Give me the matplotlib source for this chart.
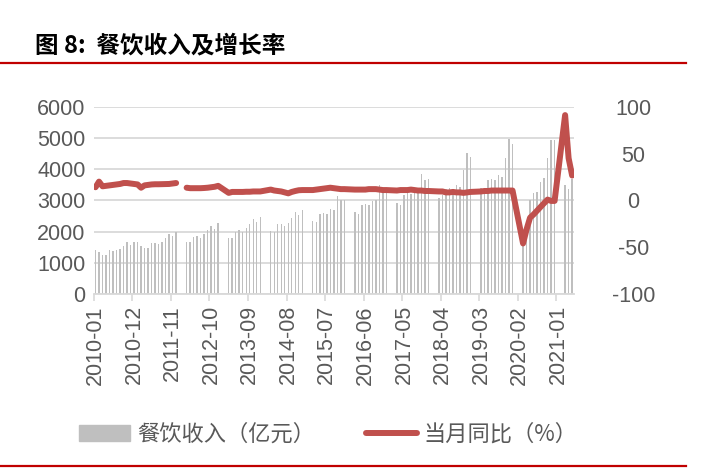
import matplotlib
matplotlib.use("Agg")
import matplotlib.pyplot as plt
from matplotlib.patches import Patch
from matplotlib.lines import Line2D
import numpy as np
import pandas as pd

# monthly categories 2010-01 .. 2021-05
months = pd.period_range("2010-01", "2021-05", freq="M").strftime("%Y-%m").tolist()

# 餐饮收入 (亿元), one row per year; None = no data (Jan/Feb from 2012)
revenue = [
    1410, 1340, 1250, 1250, 1410, 1390, 1400, 1440, 1550, 1660, 1580, 1680,  # 2010
    1660, 1540, 1490, 1470, 1620, 1640, 1600, 1680, 1780, 1920, 1860, 1980,  # 2011
    None, None, 1680, 1660, 1820, 1850, 1800, 1910, 2040, 2170, 2090, 2260,  # 2012
    None, None, 1810, 1780, 2000, 2050, 1990, 2110, 2240, 2390, 2300, 2460,  # 2013
    None, None, 2030, 2000, 2240, 2230, 2170, 2290, 2430, 2640, 2530, 2690,  # 2014
    None, None, 2350, 2300, 2560, 2580, 2560, 2710, 2680, 3140, 3010, 3010,  # 2015
    None, None, 2620, 2560, 2850, 2880, 2850, 2990, 3010, 3490, 3330, 3340,  # 2016
    None, None, 2930, 2850, 3170, 3230, 3200, 3280, 3360, 3840, 3650, 3670,  # 2017
    None, None, 3070, 3170, 3350, 3380, 3350, 3490, 3420, 3970, 4510, 4400,  # 2018
    None, None, 3400, 3350, 3650, 3700, 3650, 3820, 3740, 4350, 4960, 4810,  # 2019
    None, None, 1870, 2300, 3010, 3230, 3260, 3600, 3710, 4350, 4940, 4930,  # 2020
    None, None, 3490, 3350, 3700,                                            # 2021
]

# 当月同比 (%)
yoy = [
    14, 20, 15, 15.5, 16, 16.5, 17, 17.5, 18.5, 18.5, 18, 17.5,              # 2010
    17, 13.5, 16, 16.5, 17, 17.2, 17.2, 17.3, 17.4, 17.5, 18, 18.5,          # 2011
    None, None, 13.5, 13, 13, 13, 13, 13.2, 13.5, 14, 14.5, 15.5,            # 2012
    None, None, 8, 9, 9, 9, 9, 9.2, 9.2, 9.5, 9.5, 9.5,                      # 2013
    None, None, 11.5, 10.5, 10, 9.5, 8.5, 7.5, 9, 10, 10.8, 11,              # 2014
    None, None, 11, 11.5, 12, 12.5, 13, 13.5, 13, 12.5, 12, 12,              # 2015
    None, None, 11.5, 11.5, 11.5, 11.5, 12, 12, 12, 11.5, 11, 11,            # 2016
    None, None, 10.5, 11, 11, 11, 11.5, 11, 10.5, 10.5, 10, 10,              # 2017
    None, None, 9.5, 9.5, 8.5, 8.5, 9, 8.5, 8.5, 8, 8.5, 9,                  # 2018
    None, None, 9.5, 10, 10, 10.5, 10.5, 10.5, 10.5, 10.5, 10.5, 10.5,       # 2019
    None, None, -46, -31, -18.5, -15, -11, -7, -3, 0.8, -0.6, -0.6,          # 2020
    None, None, 91, 45, 26.5,                                                # 2021
]

line_break = "2012-01"   # the line is broken here, other gaps are joined
tick_every = 11

GRAY = "#BFBFBF"
RED = "#C0504D"
TXT = "#595959"
GRID = "#D9D9D9"

plt.rcParams["font.family"] = ["Liberation Sans", "Noto Sans CJK SC", "DejaVu Sans"]
plt.rcParams["axes.unicode_minus"] = False

fig = plt.figure(figsize=(7.05, 4.72), dpi=100)

# title and red rules
fig.text(0.05, 0.903, "图 8:  餐饮收入及增长率", fontsize=17, fontweight="bold",
         family=["Noto Sans CJK SC"], color="black", va="center", ha="left")
fig.add_artist(Line2D([0, 0.973], [0.866, 0.866], color="#C00000", lw=1.6))
fig.add_artist(Line2D([0, 0.973], [0.013, 0.013], color="#C00000", lw=1.6))

ax = fig.add_axes([0.133, 0.377, 0.681, 0.397])
ax2 = ax.twinx()

x = np.arange(len(months)) + 0.5
rev = np.array([np.nan if v is None else v for v in revenue], dtype=float)
ok = ~np.isnan(rev)
ax.bar(x[ok], rev[ok], width=0.4, color=GRAY, zorder=2)

g = np.array([np.nan if v is None else v for v in yoy], dtype=float)
cut = months.index(line_break)
for seg in (slice(0, cut), slice(cut, len(months))):
    xs, ys = x[seg], g[seg]
    m = ~np.isnan(ys)
    ax2.plot(xs[m], ys[m], color=RED, lw=4.3, solid_capstyle="round",
             solid_joinstyle="round", zorder=3)

ax.set_xlim(0, len(months))
ax.set_ylim(0, 6000)
ax.set_yticks(range(0, 6001, 1000))
ax2.set_ylim(-100, 100)
ax2.set_yticks([-100, -50, 0, 50, 100])

ax.yaxis.grid(True, color=GRID, lw=1.3, zorder=0)
ax.set_axisbelow(True)

tick_idx = list(range(0, len(months), tick_every))
ax.set_xticks([i + 0.5 for i in tick_idx])
ax.set_xticklabels([months[i] for i in tick_idx], rotation=90)
ax.set_xticks(tick_idx, minor=True)
ax.tick_params(axis="x", which="major", length=0, pad=8, labelsize=15.5, labelcolor=TXT)
ax.tick_params(axis="x", which="minor", length=5, width=1.2, color=GRID)
ax.tick_params(axis="y", length=0, pad=6, labelsize=15.5, labelcolor=TXT)
ax2.tick_params(axis="y", length=0, pad=43, labelsize=15.5, labelcolor=TXT)
for t in ax2.get_yticklabels():
    t.set_horizontalalignment("center")

for a in (ax, ax2):
    for s in a.spines.values():
        s.set_visible(False)
ax.spines["bottom"].set_visible(True)
ax.spines["bottom"].set_color(GRID)
ax.spines["bottom"].set_linewidth(1.3)

handles = [Patch(color=GRAY, label="餐饮收入（亿元）"),
           Line2D([], [], color=RED, lw=4.3, solid_capstyle="round", label="当月同比（%）")]
leg = fig.legend(handles=handles, loc="center", bbox_to_anchor=(0.466, 0.08), ncol=2,
                 frameon=False, handlelength=2.3, handletextpad=0.3, columnspacing=2.3,
                 prop={"family": ["Noto Sans CJK SC"], "size": 16})
for t in leg.get_texts():
    t.set_color(TXT)

fig.savefig("out.png", dpi=100)
